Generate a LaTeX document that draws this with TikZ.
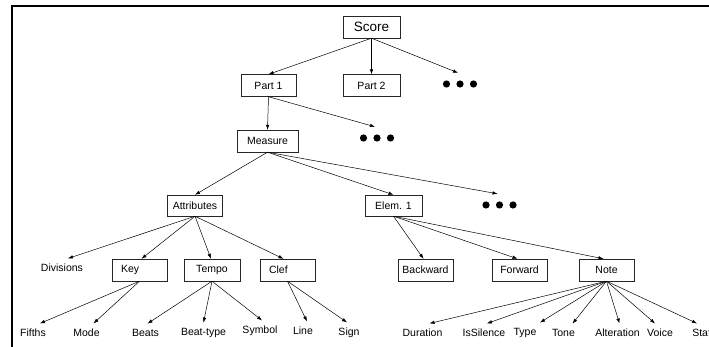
\documentclass[tikz,border=0pt]{standalone}
\usepackage{fontspec}
\setmainfont{Liberation Sans}
\usetikzlibrary{arrows.meta,positioning}

\begin{document}
\begin{tikzpicture}[x=1pt, y=-1pt,
  box/.style={draw=black!85, minimum height=22pt, minimum width=55pt, inner sep=1pt, font=\fontsize{10.5}{12}\selectfont},
  lefttext/.style={text width=37pt, align=left},
  leaf/.style={inner xsep=1pt, inner ysep=5.5pt, font=\fontsize{10.5}{12}\selectfont},
  more/.style={minimum width=40pt, minimum height=22pt, inner sep=0pt},
  link/.style={-{Latex[length=5pt,width=3.5pt]}, line width=0.5pt}]
  \useasboundingbox (0,0) rectangle (709,347);
  \clip (0,0) rectangle (709,347);
  % frame
  \draw[line width=1.8pt] (12,347) -- (12,5.8) -- (709,5.8);

  % upper levels
  \node[box, minimum width=57pt, font=\fontsize{13.5}{16}\selectfont] (score) at (371.5,27) {Score};
  \node[box] (part1) at (268.5,85.5) {Part 1};
  \node[box, minimum width=57pt] (part2) at (371.5,85.5) {Part 2};
  \node[more] (dotsA) at (460,84) {};
  \node[box, minimum width=61pt] (measure) at (267.5,141) {Measure};
  \node[more] (dotsB) at (377,138) {};
  \node[box, minimum height=21pt] (attrib) at (195,205.5) {Attributes};
  \node[box, minimum width=57pt, minimum height=21pt] (elem) at (393.5,205.5) {Elem. 1};
  \node[more] (dotsC) at (499.5,205) {};
  \foreach \d in {dotsA,dotsB,dotsC}
    \foreach \dx in {-13.5,0,13.5} \fill ([xshift=\dx pt]\d) circle (3.6pt);

  % fourth level
  \node[leaf] (div) at (62,268) {Divisions};
  \node[box, lefttext] (key) at (139.5,270) {Key};
  \node[box, minimum width=56pt] (tempo) at (212,270) {Tempo};
  \node[box, lefttext] (clef) at (287.5,270) {Clef};
  \node[box] (back) at (425.5,270) {Backward};
  \node[box] (fwd) at (519.5,270) {Forward};
  \node[box] (note) at (606.5,270) {Note};

  % leaves
  \foreach \name/\x/\y/\txt in {fifths/33/333/Fifths, mode/86.5/333/Mode, beats/145.5/333/Beats,
      beattype/203.5/333/Beat-type, symbol/260/331/Symbol, line/303/331/Line, sign/349/333/Sign,
      duration/422.5/333/Duration, issilence/484/333/IsSilence, type/525/333/Type, tone/563.5/333/Tone,
      alter/617.5/333/Alteration, voice/660/333/Voice, staff/703/333/Staff}
    \node[leaf] (\name) at (\x,\y) {\txt};

  % links
  \foreach \from/\to/\dx in {score/part1/0, score/part2/0, score/dotsA/-2, part1/measure/0,
      part1/dotsB/-2, measure/attrib/0, measure/elem/0, measure/dotsC/-2,
      attrib/div/6, attrib/key/2, attrib/tempo/-1, attrib/clef/-4,
      elem/back/-2, elem/fwd/-2, elem/note/-3,
      key/fifths/7, key/mode/7, tempo/beats/2, tempo/beattype/0, tempo/symbol/2,
      clef/line/4, clef/sign/-2,
      note/duration/7, note/issilence/3, note/type/15, note/tone/9, note/alter/2,
      note/voice/-5, note/staff/-6}
    \draw[link] (\from.south) -- ([xshift=\dx pt]\to.north);
\end{tikzpicture}
\end{document}
